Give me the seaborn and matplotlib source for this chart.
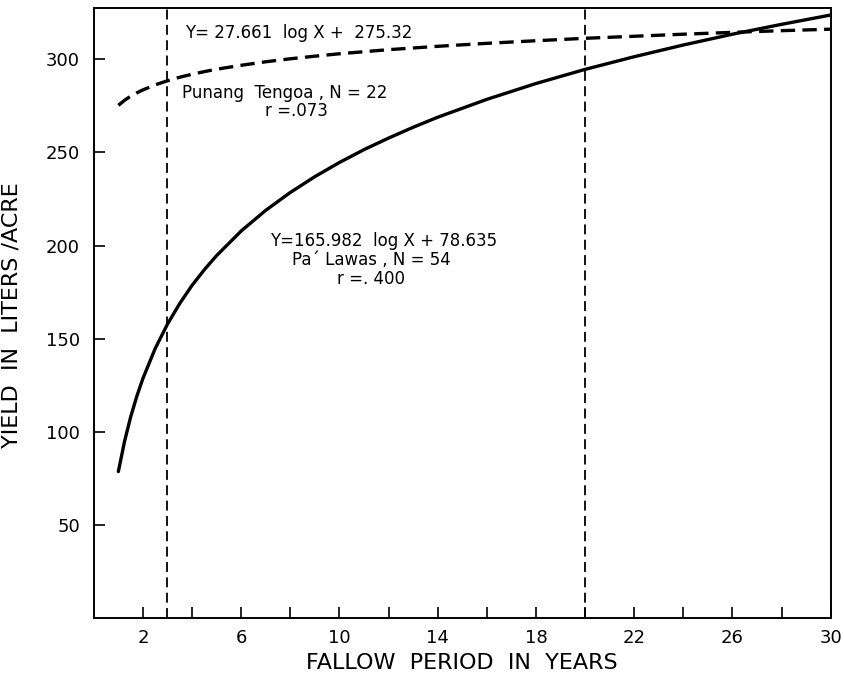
import numpy as np
import pandas as pd
import matplotlib
matplotlib.use("Agg")
import matplotlib.pyplot as plt
import seaborn as sns

# ---------------- data ----------------
years = [1, 1.25, 1.5, 1.75, 2, 2.5, 3, 3.5, 4, 4.5, 5, 6, 7, 8, 9, 10, 11, 12, 13,
         14, 16, 18, 20, 22, 24, 26, 28, 30]
# Pa' Lawas (solid curve)
pa_lawas = [78.6, 94.7, 107.9, 119.0, 128.6, 144.7, 157.8, 168.9, 178.6, 187.0,
            194.6, 207.8, 218.9, 228.5, 237.0, 244.6, 251.5, 257.7, 263.5,
            268.9, 278.5, 287.0, 294.6, 301.4, 307.7, 313.5, 318.8, 323.8]
# Punang Tengoa (dashed curve)
punang = [275.3, 278.0, 280.2, 282.0, 283.6, 286.3, 288.5, 290.4, 292.0, 293.4,
          294.7, 296.8, 298.7, 300.3, 301.7, 303.0, 304.1, 305.2, 306.1,
          307.0, 308.6, 310.0, 311.3, 312.4, 313.5, 314.5, 315.4, 316.2]
cutoffs = [3, 20]

x_major = [2, 6, 10, 14, 18, 22, 26, 30]
x_minor = [4, 8, 12, 16, 20, 24, 28]
y_ticks = [50, 100, 150, 200, 250, 300]

df = pd.DataFrame({"years": years, "pa_lawas": pa_lawas, "punang": punang})

sns.set_style("ticks")
plt.rcParams['font.family'] = ['DejaVu Sans']
plt.rcParams['text.color'] = 'black'
plt.rcParams['axes.labelcolor'] = 'black'

fig = plt.figure(figsize=(8.45, 6.79), dpi=100)
ax = fig.add_axes([0.111, 0.090, 0.872, 0.898])

sns.lineplot(data=df, x="years", y="pa_lawas", ax=ax, color="black", lw=2.4)
sns.lineplot(data=df, x="years", y="punang", ax=ax, color="black", lw=2.4)
ax.lines[-1].set_dashes([4.3, 2.2])
for c in cutoffs:
    ax.axvline(c, color="black", lw=1.3, dashes=(5.5, 3))

ax.set_xlim(0, 30)
ax.set_ylim(0, 327.5)
ax.set_xticks(x_major)
ax.set_xticks(x_minor, minor=True)
ax.set_yticks(y_ticks)
ax.tick_params(axis="both", which="both", direction="in", length=8, width=1.2,
               labelsize=13, colors="black")
ax.tick_params(axis="y", pad=10)
ax.tick_params(axis="x", pad=8)
for s in ax.spines.values():
    s.set_linewidth(1.4)
    s.set_color("black")

ax.set_xlabel("FALLOW  PERIOD  IN  YEARS", fontsize=16, labelpad=4)
ax.set_ylabel("YIELD  IN  LITERS /ACRE", fontsize=16)
ax.yaxis.set_label_coords(-0.098, 0.497)

ax.text(3.7, 314, "Y= 27.661  log X +  275.32", fontsize=12, va="center")
ax.text(3.6, 282, "Punang  Tengoa , N = 22", fontsize=12, va="center")
ax.text(8.25, 272.5, "r =.073", fontsize=12, va="center", ha="center")
ax.text(11.8, 202.5, "Y=165.982  log X + 78.635", fontsize=12, va="center", ha="center")
ax.text(11.3, 192, "Pa\u00b4 Lawas , N = 54", fontsize=12, va="center", ha="center")
ax.text(11.3, 182, "r =. 400", fontsize=12, va="center", ha="center")

fig.savefig("out.png", dpi=100, facecolor="white")
